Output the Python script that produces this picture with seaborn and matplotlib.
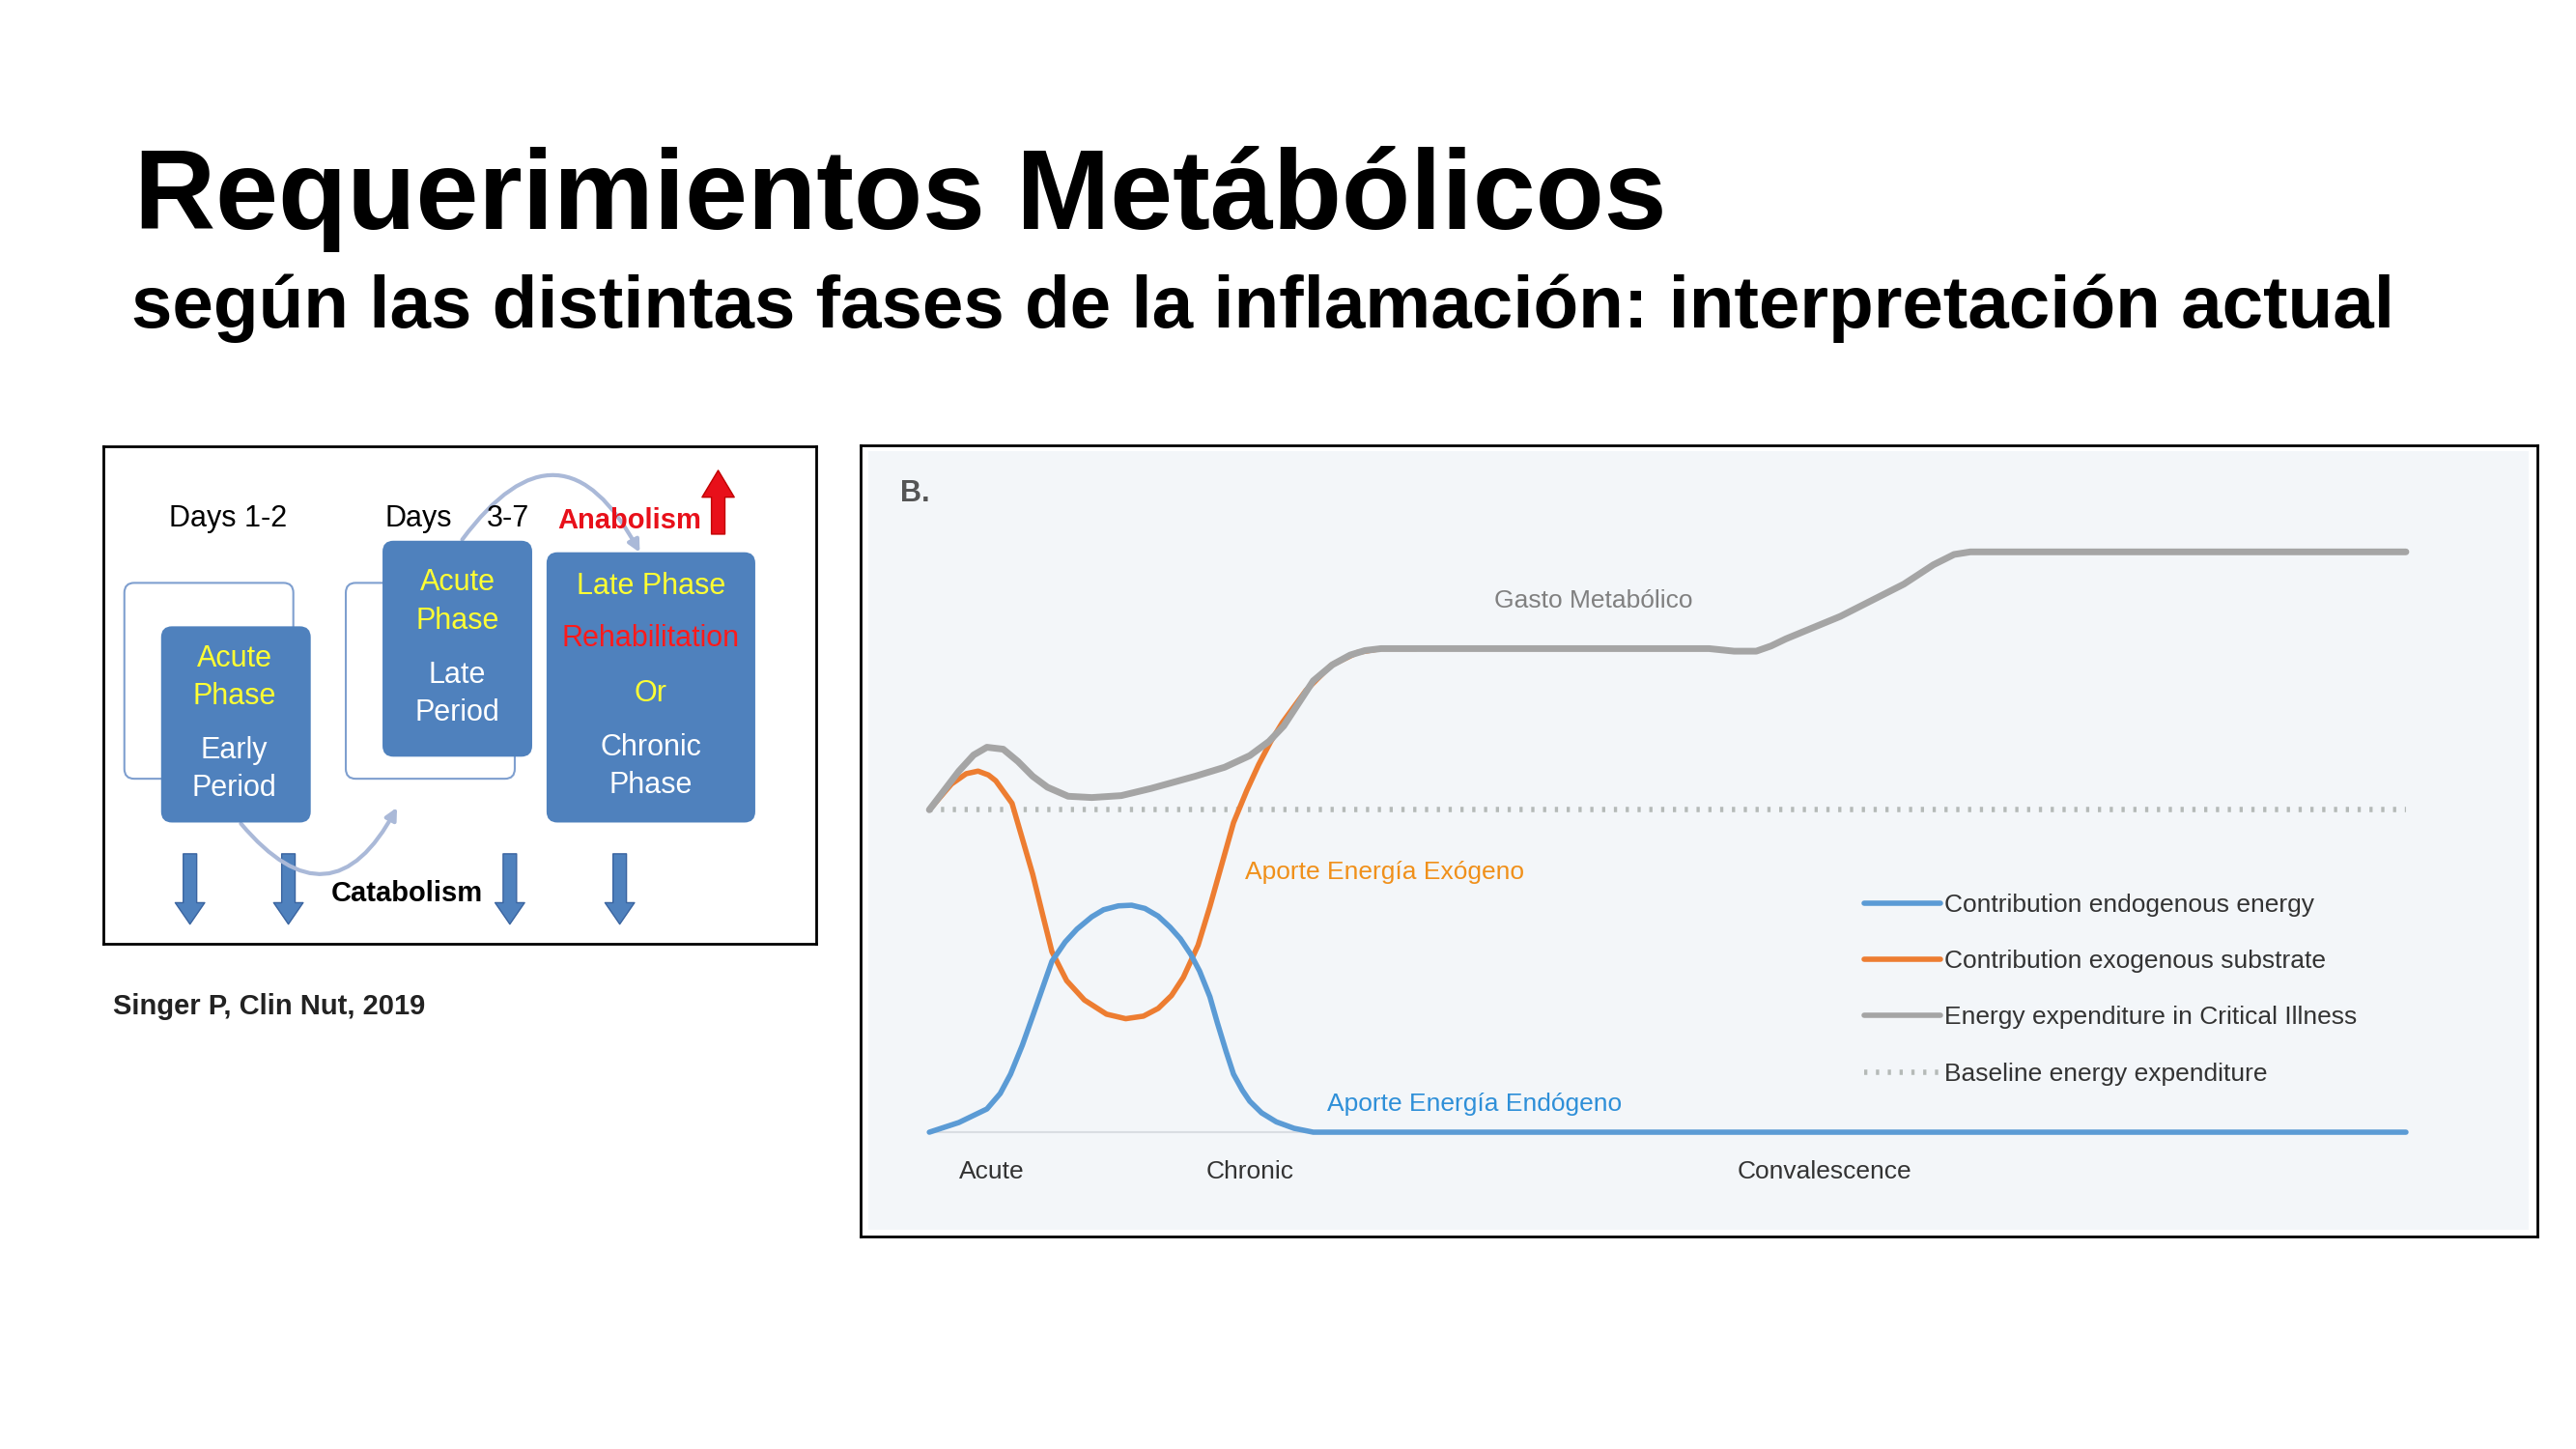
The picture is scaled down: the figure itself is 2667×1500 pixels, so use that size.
import matplotlib
matplotlib.use("Agg")
import matplotlib.pyplot as plt
import seaborn as sns
from matplotlib.patches import FancyBboxPatch, FancyArrowPatch, Rectangle
from matplotlib.lines import Line2D

sns.set_theme(style="white")
plt.rcParams['font.family'] = ['Liberation Sans', 'DejaVu Sans']
plt.rcParams['text.color'] = 'black'

# ---- data (time 0..100, energy 0..100; baseline = 50) ----
gray_t = [0, 1, 2, 3, 3.9, 5, 6, 7, 8, 9.4, 11, 13, 15, 18, 20, 21.7, 23, 24, 25, 26, 27.3, 28.5, 29.5, 30.6, 35, 45, 52.8, 54.5, 56, 57, 58, 61.7, 66, 68, 69.4, 70.5, 72, 80, 100]
gray_v = [50, 53, 56, 58.5, 59.7, 59.4, 57.5, 55.2, 53.5, 52.1, 51.9, 52.2, 53.3, 55.2, 56.6, 58.4, 60.6, 63, 66.5, 70, 72.5, 74, 74.7, 75, 75, 75, 75, 74.6, 74.6, 75.4, 76.5, 80, 85, 88, 89.6, 90, 90, 90, 90]
orange_t = [0, 1.5, 2.5, 3.3, 4, 4.5, 5.6, 6.3, 7, 7.7, 8.3, 9.3, 10.5, 12, 13.3, 14.5, 15.5, 16.4, 17.2, 18.2, 19, 19.8, 20.6, 21.5, 22.3, 23.1, 23.9, 25.5, 27.2, 29, 30.6, 33]
orange_v = [50, 54, 55.6, 56, 55.4, 54.5, 51, 45.5, 40, 33.5, 28, 23.5, 20.5, 18.3, 17.6, 18, 19.2, 21.2, 24, 29, 35, 41.5, 48, 53, 57, 60.5, 63.5, 68.5, 72.4, 74.4, 75, 75]
blue_t = [0, 2, 3.9, 4.8, 5.5, 6.3, 7, 8.3, 9.2, 10, 11, 11.8, 12.8, 13.7, 14.6, 15.5, 16.3, 17, 17.7, 18.3, 19, 19.5, 20.1, 20.6, 21.2, 21.7, 22.5, 23.5, 24.7, 26, 40, 70, 100]
blue_v = [0, 1.5, 3.6, 6, 9, 13.5, 18, 26.5, 29.5, 31.5, 33.4, 34.5, 35.1, 35.2, 34.7, 33.5, 31.8, 30, 27.6, 25, 21, 17, 12.5, 9, 6.5, 4.8, 3, 1.6, 0.6, 0, 0, 0, 0]
baseline_t = [0, 100]
baseline_v = [50, 50]
phase_labels = ["Acute", "Chronic", "Convalescence"]
phase_pos = [4.2, 21.7, 60.6]
legend_labels = ["Contribution endogenous energy", "Contribution exogenous substrate",
                 "Energy expenditure in Critical Illness", "Baseline energy expenditure"]

BLUE = "#5b9bd5"; ORANGE = "#ed7d31"; GRAY = "#a5a5a5"

fig = plt.figure(figsize=(26.67, 15), dpi=100)
fig.patch.set_facecolor("white")

fig.text(0.052, 0.842, "Requerimientos Metábólicos", fontsize=84, fontweight="bold", va="baseline", color="black")
fig.text(0.051, 0.774, "según las distintas fases de la inflamación: interpretación actual",
         fontsize=55, fontweight="bold", va="baseline", color="black")
fig.text(0.044, 0.305, "Singer P, Clin Nut, 2019", fontsize=21, fontweight="bold", va="center", color="#222222")

# ---- right chart ----
ax = fig.add_axes([0.334, 0.147, 0.651, 0.546])
ax.set_facecolor("white")
ax.set_xlim(-4.67, 108.9)
ax.set_ylim(-16.1, 106.6)
for s in ax.spines.values():
    s.set_color("black"); s.set_linewidth(2)
ax.set_xticks([]); ax.set_yticks([])
ax.add_patch(Rectangle((-4.1, -15.2), 112.4, 120.9, facecolor="#f3f6f9", edgecolor="none", zorder=0))
ax.axhline(0, xmin=0.041, xmax=0.922, color="#d9dde2", lw=1.5, zorder=1)

sns.lineplot(x=baseline_t, y=baseline_v, ax=ax, color="#b5bab8", lw=4, linestyle=(0, (0.6, 1.6)), zorder=2)
sns.lineplot(x=orange_t, y=orange_v, ax=ax, color=ORANGE, lw=4, zorder=3, sort=False)
sns.lineplot(x=gray_t, y=gray_v, ax=ax, color=GRAY, lw=5, zorder=4, sort=False)
sns.lineplot(x=blue_t, y=blue_v, ax=ax, color=BLUE, lw=4, zorder=5, sort=False)

for lab, p in zip(phase_labels, phase_pos):
    ax.text(p, -6.1, lab, ha="center", va="center", fontsize=19, color="#333333")
ax.text(-2.0, 99, "B.", fontsize=22, fontweight="bold", color="#555555", va="center")
ax.text(45, 82.4, "Gasto Metabólico", fontsize=19, color="#808080", ha="center", va="center")
ax.text(30.8, 40.3, "Aporte Energía Exógeno", fontsize=19, color="#f0901a", ha="center", va="center")
ax.text(36.9, 4.3, "Aporte Energía Endógeno", fontsize=19, color="#2e8fd8", ha="center", va="center")

handles = [Line2D([], [], color=BLUE, lw=4), Line2D([], [], color=ORANGE, lw=4),
           Line2D([], [], color=GRAY, lw=4), Line2D([], [], color="#b5bab8", lw=4, linestyle=(0, (0.6, 1.6)))]
ax.legend(handles, legend_labels, loc="upper left", bbox_to_anchor=(0.585, 0.462), frameon=False,
          fontsize=19, handlelength=3.0, handletextpad=0.15, labelspacing=1.3, labelcolor="#333333")

# ---- left diagram ----
lx = fig.add_axes([0.040, 0.349, 0.277, 0.343])
lx.set_xlim(62, 497); lx.set_ylim(574, 272)
lx.set_xticks([]); lx.set_yticks([])
for s in lx.spines.values():
    s.set_color("black"); s.set_linewidth(2)

BOX = "#4f81bd"
def rbox(x0, y0, x1, y1, fc, ec, lw=1.5, z=2):
    lx.add_patch(FancyBboxPatch((x0, y0), x1 - x0, y1 - y0, boxstyle="round,pad=0,rounding_size=6",
                                fc=fc, ec=ec, lw=lw, zorder=z))
rbox(75, 355, 178, 474, "white", "#7f9fcf", 1.5, 1)
rbox(210, 355, 313, 474, "white", "#7f9fcf", 1.5, 1)
rbox(98, 382, 188, 500, BOX, BOX)
rbox(233, 330, 323, 460, BOX, BOX)
rbox(333, 337, 459, 500, BOX, BOX)

Y = "#ffff33"; W = "white"; R = "#ff1a1a"
fs = 22
for txt, x, y, c in [("Acute", 142, 401, Y), ("Phase", 142, 424, Y), ("Early", 142, 457, W), ("Period", 142, 480, W),
                     ("Acute", 278, 355, Y), ("Phase", 278, 378, Y), ("Late", 278, 411, W), ("Period", 278, 434, W),
                     ("Late Phase", 396, 357, Y), ("Rehabilitation", 396, 389, R), ("Or", 396, 422, Y),
                     ("Chronic", 396, 455, W), ("Phase", 396, 478, W)]:
    lx.text(x, y, txt, ha="center", va="center", fontsize=fs, color=c, zorder=5)

lx.text(138, 316, "Days 1-2", ha="center", va="center", fontsize=22, color="black")
lx.text(254, 316, "Days", ha="center", va="center", fontsize=22, color="black")
lx.text(309, 316, "3-7", ha="center", va="center", fontsize=22, color="black")
lx.text(383, 317, "Anabolism", ha="center", va="center", fontsize=21, color="#e8101a", fontweight="bold")
lx.text(247, 544, "Catabolism", ha="center", va="center", fontsize=21, color="black", fontweight="bold", zorder=6)

lx.add_patch(FancyArrowPatch((437, 327), (437, 285), arrowstyle="simple,head_width=1.2,head_length=1.0,tail_width=0.5",
                             mutation_scale=20, fc="#e8101a", ec="#c00000", lw=1))
for x in [115, 175, 310, 377]:
    lx.add_patch(FancyArrowPatch((x, 518), (x, 564), arrowstyle="simple,head_width=1.1,head_length=0.8,tail_width=0.5",
                                 mutation_scale=20, fc="#4f81bd", ec="#3a64a0", lw=1))
lx.add_patch(FancyArrowPatch((145, 500), (242, 490), connectionstyle="arc3,rad=0.75", arrowstyle="-|>",
                             mutation_scale=18, color="#aab9d8", lw=3, zorder=1))
lx.add_patch(FancyArrowPatch((280, 330), (390, 338), connectionstyle="arc3,rad=-0.8", arrowstyle="-|>",
                             mutation_scale=18, color="#aab9d8", lw=3, zorder=1))

fig.savefig("out.png", dpi=100, facecolor="white")
